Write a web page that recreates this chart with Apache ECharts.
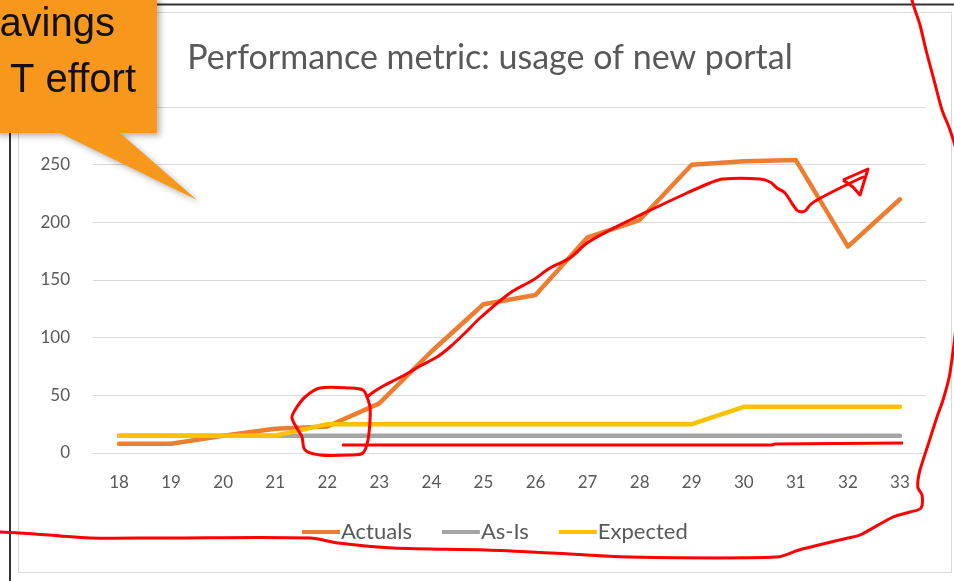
<!DOCTYPE html>
<html>
<head>
<meta charset="utf-8">
<script src="https://cdn.jsdelivr.net/npm/echarts@6/dist/echarts.min.js"></script>
<style>
  html, body { margin: 0; padding: 0; background: #fff; }
  #chart { width: 954px; height: 581px; }
</style>
</head>
<body>
<div id="chart"></div>
<script>
const weeks = ["18", "19", "20", "21", "22", "23", "24", "25", "26", "27", "28", "29", "30", "31", "32", "33"];
const actuals = [8, 8, 15, 21, 23, 43, 88, 129, 137, 187, 202, 250, 253, 254, 179, 220];
const asIs = [15, 15, 15, 15, 15, 15, 15, 15, 15, 15, 15, 15, 15, 15, 15, 15];
const expected = [15, 15, 15, 15, 25, 25, 25, 25, 25, 25, 25, 25, 40, 40, 40, 40];

const seriesColors = ["#ED7D31", "#A5A5A5", "#FFC000"];
const labelColor = "#595959";
const fontName = "Lato, 'Open Sans', sans-serif";

// hand drawn red marks on top of the screenshot
const penCircle = [[367, 397], [363, 390], [350, 388], [320, 388], [305, 397], [295, 410], [292, 418], [298, 430],
  [302, 437], [305, 450], [320, 455], [350, 455], [363, 453], [368, 440], [370, 420], [370, 407], [367, 397]];
const penTrend = [[367, 397], [375, 391], [385, 385], [395, 380], [410, 372], [420, 366], [437, 357], [450, 347],
  [465, 333], [480, 318], [510, 293], [533, 280], [550, 268], [570, 258], [587, 243], [610, 230], [630, 220],
  [657, 207], [687, 193], [710, 183], [723, 179], [760, 179], [770, 182], [777, 188], [785, 193], [793, 205],
  [798, 211], [805, 211], [810, 205], [817, 200], [840, 188], [863, 177]];
const penArrow = [[843, 180], [868, 169], [860, 195], [853, 187], [843, 180]];
const penBase = [[342, 445], [772, 445], [775, 444], [903, 443]];
const penOuter = [[912, 0], [915, 10], [920, 25], [926, 50], [934, 80], [942, 110], [950, 130], [958, 160],
  [958, 300], [950, 373], [943, 400], [937, 417], [928, 445], [920, 470], [918, 480], [918, 488], [922, 495],
  [921, 508], [910, 512], [893, 517], [860, 535], [848, 538], [831, 542], [799, 550], [777, 557], [629, 557],
  [552, 553], [486, 550], [393, 548], [338, 543], [310, 538], [160, 538], [90, 538], [60, 536], [35, 534], [0, 532]];

function pen(points) {
  return {
    type: "polyline",
    z: 100,
    shape: { points: points, smooth: 0.3 },
    style: { fill: null, stroke: "#FF0000", lineWidth: 3, lineCap: "round", lineJoin: "round" },
  };
}

const chart = echarts.init(document.getElementById("chart"));

const option = {
  animation: false,
  title: {
    text: "Performance metric: usage of new portal",
    left: 485,
    textAlign: "center",
    top: 36,
    textStyle: { color: labelColor, fontSize: 34, fontWeight: "normal", fontFamily: fontName },
  },
  legend: {
    bottom: 33,
    left: 297,
    itemWidth: 38,
    itemHeight: 4,
    itemGap: 30,
    icon: "rect",
    textStyle: { color: labelColor, fontSize: 22, fontFamily: fontName, padding: [0, 0, 0, -4] },
    data: ["Actuals", "As-Is", "Expected"],
  },
  grid: {
    left: 93,
    right: 28,
    top: 107,
    bottom: 128,
  },
  xAxis: {
    type: "category",
    data: weeks,
    boundaryGap: true,
    axisLine: { show: true, lineStyle: { color: "#d9d9d9", width: 1 } },
    axisTick: { show: false },
    axisLabel: { color: labelColor, fontSize: 17, fontFamily: fontName, margin: 21 },
  },
  yAxis: {
    type: "value",
    min: 0,
    max: 300,
    interval: 50,
    axisLine: { show: false },
    axisTick: { show: false },
    axisLabel: { color: labelColor, fontSize: 17, fontFamily: fontName, margin: 23 },
    splitLine: { lineStyle: { color: "#d9d9d9", width: 1 } },
  },
  series: [
    {
      name: "Actuals",
      type: "line",
      data: actuals,
      symbol: "none",
      itemStyle: { color: seriesColors[0] },
      lineStyle: { color: seriesColors[0], width: 4.5, cap: "round", join: "round" },
    },
    {
      name: "As-Is",
      type: "line",
      data: asIs,
      symbol: "none",
      itemStyle: { color: seriesColors[1] },
      lineStyle: { color: seriesColors[1], width: 4.5, cap: "round" },
    },
    {
      name: "Expected",
      type: "line",
      data: expected,
      symbol: "none",
      itemStyle: { color: seriesColors[2] },
      lineStyle: { color: seriesColors[2], width: 4.5, cap: "round", join: "round" },
    },
  ],
  graphic: [
    // chart border
    {
      type: "rect", z: -10, silent: true,
      shape: { x: 18.5, y: 12.5, width: 933, height: 560 },
      style: { fill: null, stroke: "#d9d9d9", lineWidth: 1 },
    },
    // slide frame
    {
      type: "line", z: 50,
      shape: { x1: 0, y1: 4.5, x2: 954, y2: 4.5 },
      style: { stroke: "#333", lineWidth: 2 },
    },
    {
      type: "line", z: 50,
      shape: { x1: 10, y1: 0, x2: 10, y2: 581 },
      style: { stroke: "#333", lineWidth: 2 },
    },
    // orange callout
    {
      type: "polygon", z: 60,
      shape: { points: [[-5, -5], [157, -5], [157, 133], [120, 133], [197, 200], [60, 133], [-5, 133]] },
      style: {
        fill: "#F7981D",
        shadowBlur: 6, shadowOffsetX: 3, shadowOffsetY: 3, shadowColor: "rgba(0,0,0,0.3)",
      },
    },
    {
      type: "text", z: 61,
      x: 115, y: 45,
      style: { text: "avings", fill: "#111", font: "40px 'Liberation Sans', Arial, sans-serif", textAlign: "right", textVerticalAlign: "bottom" },
    },
    {
      type: "text", z: 61,
      x: 136, y: 101,
      style: { text: "T effort", fill: "#111", font: "40px 'Liberation Sans', Arial, sans-serif", textAlign: "right", textVerticalAlign: "bottom" },
    },
    pen(penCircle),
    pen(penTrend),
    { type: "polyline", z: 100, shape: { points: penArrow }, style: { fill: null, stroke: "#FF0000", lineWidth: 3, lineJoin: "round" } },
    { type: "polyline", z: 100, shape: { points: penBase }, style: { fill: null, stroke: "#FF0000", lineWidth: 3 } },
    pen(penOuter),
  ],
};

chart.setOption(option);
</script>
</body>
</html>
